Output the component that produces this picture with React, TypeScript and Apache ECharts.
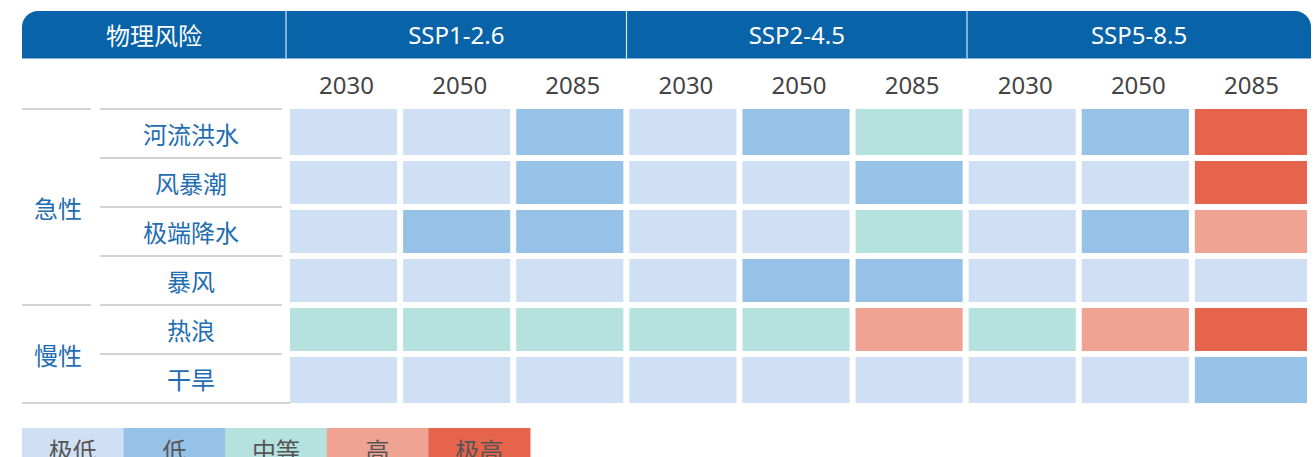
import React, { useEffect, useRef } from "react";
import * as echarts from "echarts";

const headerTitle = "物理风险";
const scenarios = ["SSP1-2.6", "SSP2-4.5", "SSP5-8.5"];
const years = ["2030", "2050", "2085"];
const groupNames = ["急性", "慢性"];
const groupSizes = [4, 2];
const risks = ["河流洪水", "风暴潮", "极端降水", "暴风", "热浪", "干旱"];
const levels = ["极低", "低", "中等", "高", "极高"];
const levelColors = ["#cfe0f4", "#96c2e8", "#b5e1df", "#f0a393", "#e6644b"];

// level index per column: SSP1-2.6 (2030,2050,2085), SSP2-4.5 (...), SSP5-8.5 (...)
const riverFlood = [0, 0, 1, 0, 1, 2, 0, 1, 4];
const stormSurge = [0, 0, 1, 0, 0, 1, 0, 0, 4];
const extremePrecip = [0, 1, 1, 0, 0, 2, 0, 1, 3];
const windstorm = [0, 0, 0, 0, 1, 1, 0, 0, 0];
const heatwave = [2, 2, 2, 2, 2, 3, 2, 3, 4];
const drought = [0, 0, 0, 0, 0, 0, 0, 0, 1];
const riskValues = [riverFlood, stormSurge, extremePrecip, windstorm, heatwave, drought];

const FONT = "'Noto Sans CJK SC', 'Noto Sans', sans-serif";
const LATIN = "'Noto Sans', 'Noto Sans CJK SC', sans-serif";

export default function App() {
  const ref = useRef<HTMLDivElement>(null);
  useEffect(() => {
    document.body.style.margin = "0";
    const chart = echarts.init(ref.current!, null, { renderer: "svg" });

    const columns: string[] = [];
    scenarios.forEach(() => years.forEach((y) => columns.push(y)));
    const nCols = columns.length;
    const nRows = risks.length;
    const data: number[][] = [];
    riskValues.forEach((row, r) => row.forEach((v, c) => data.push([c, r, v])));

    const gridLeft = 290;
    const gridRight = 1308;
    const gridTop = 109;
    const gridBottom = 403;
    const rowH = (gridBottom - gridTop) / nRows;

    const graphics: any[] = [];
    // header band
    const hdrLeft = 22, hdrRight = 1311, hdrTop = 11, hdrBottom = 58.5;
    const scnLeft = 286, scnRight = 1307.5;
    const scnW = (scnRight - scnLeft) / scenarios.length;
    graphics.push({
      type: "rect",
      shape: { x: hdrLeft, y: hdrTop, width: hdrRight - hdrLeft, height: hdrBottom - hdrTop, r: [16, 16, 0, 0] },
      style: { fill: "#0863a9" },
    });
    graphics.push({
      type: "text",
      x: (hdrLeft + scnLeft) / 2,
      y: (hdrTop + hdrBottom) / 2,
      style: { text: headerTitle, fill: "#ffffff", fontSize: 24, fontFamily: FONT, align: "center", verticalAlign: "middle" },
    });
    scenarios.forEach((s, i) => {
      const x0 = scnLeft + i * scnW;
      graphics.push({
        type: "line",
        shape: { x1: x0, y1: hdrTop, x2: x0, y2: hdrBottom },
        style: { stroke: "#d6e4f2", lineWidth: 1.2 },
      });
      const cx = i === scenarios.length - 1 ? (x0 + hdrRight) / 2 : x0 + scnW / 2;
      graphics.push({
        type: "text",
        x: cx,
        y: (hdrTop + hdrBottom) / 2,
        style: { text: s, fill: "#ffffff", fontSize: 24, fontFamily: LATIN, align: "center", verticalAlign: "middle" },
      });
    });

    // left table lines
    const lineColor = "#a6a6a6";
    let rowStart = 0;
    groupNames.forEach((g, gi) => {
      const yTop = gridTop + rowStart * rowH;
      const yBot = gridTop + (rowStart + groupSizes[gi]) * rowH;
      graphics.push({
        type: "line",
        shape: { x1: 22, y1: yTop, x2: 91, y2: yTop },
        style: { stroke: lineColor, lineWidth: 1 },
      });
      graphics.push({
        type: "text",
        x: 58,
        y: (yTop + yBot) / 2,
        style: { text: g, fill: "#1f6db2", fontSize: 24, fontFamily: FONT, align: "center", verticalAlign: "middle" },
      });
      rowStart += groupSizes[gi];
    });
    for (let r = 0; r < nRows; r++) {
      const y = gridTop + r * rowH;
      graphics.push({
        type: "line",
        shape: { x1: 100, y1: y, x2: 282, y2: y },
        style: { stroke: lineColor, lineWidth: 1 },
      });
    }
    graphics.push({
      type: "line",
      shape: { x1: 22, y1: gridBottom, x2: 290, y2: gridBottom },
      style: { stroke: lineColor, lineWidth: 1 },
    });

    // legend
    const legLeft = 22, legTop = 428, legW = 101.6, legH = 40;
    levels.forEach((l, i) => {
      graphics.push({
        type: "rect",
        shape: { x: legLeft + i * legW, y: legTop, width: legW + 0.5, height: legH },
        style: { fill: levelColors[i] },
      });
      graphics.push({
        type: "text",
        x: legLeft + i * legW + legW / 2,
        y: 449,
        style: { text: l, fill: "#555555", fontSize: 24, fontFamily: FONT, align: "center", verticalAlign: "middle" },
      });
    });

    chart.setOption({
      animation: false,
      grid: { left: gridLeft, right: 1316 - gridRight, top: gridTop, bottom: 457 - gridBottom },
      xAxis: {
        type: "category",
        position: "top",
        data: columns,
        axisLine: { show: false },
        axisTick: { show: false },
        splitLine: { show: false },
        axisLabel: {
          margin: 25,
          verticalAlign: "middle",
          fontSize: 24,
          color: "#444444",
          fontFamily: LATIN,
          interval: 0,
        },
      },
      yAxis: {
        type: "category",
        data: risks,
        inverse: true,
        axisLine: { show: false },
        axisTick: { show: false },
        splitLine: { show: false },
        axisLabel: {
          margin: gridLeft - 191,
          align: "center",
          fontSize: 24,
          color: "#1f6db2",
          fontFamily: FONT,
        },
      },
      graphic: graphics,
      series: [
        {
          type: "custom",
          data,
          renderItem: (params: any, api: any) => {
            const c = api.value(0);
            const r = api.value(1);
            const p = api.coord([c, r]);
            const s = api.size([1, 1]);
            const x0 = p[0] - s[0] / 2;
            const y0 = p[1] - s[1] / 2;
            const left = x0;
            const right = x0 + s[0] - (c === nCols - 1 ? 1 : 6);
            const top = y0 + (r === 0 ? 0 : 3);
            const bottom = y0 + s[1] - (r === nRows - 1 ? 0 : 3);
            return {
              type: "rect",
              shape: { x: left, y: top, width: right - left, height: bottom - top },
              style: { fill: levelColors[api.value(2)] },
            };
          },
        },
      ],
    });
    return () => chart.dispose();
  }, []);
  return <div ref={ref} style={{ width: 1316, height: 457 }} />;
}
